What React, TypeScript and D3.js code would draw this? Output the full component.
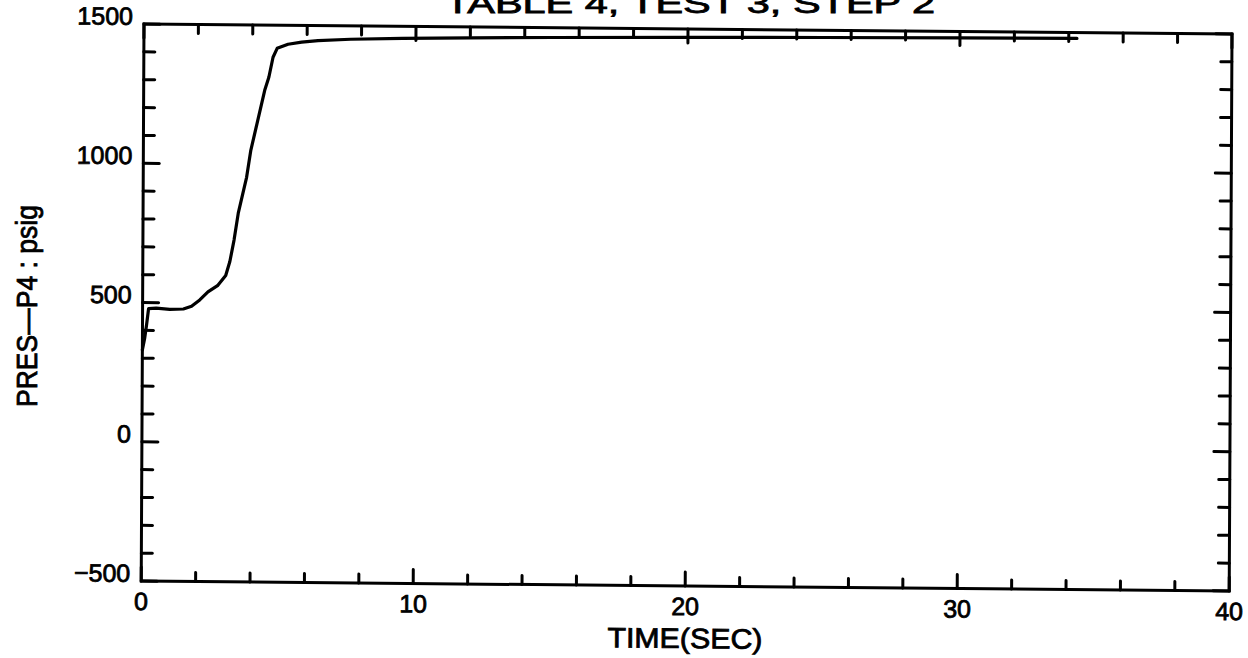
import React from "react";
import * as d3 from "d3";

const titleText = "TABLE 4, TEST 3, STEP 2";
const xLabelText = "TIME(SEC)";
const yLabelText = "PRES\u2014P4 : psig";

const xTickLabels = [0, 10, 20, 30, 40];
const yTickLabels = [-500, 0, 500, 1000, 1500];

const timeSec = [
  0, 0.08, 0.15, 0.22, 0.5, 1.0, 1.5, 1.8, 2.1, 2.4, 2.75, 3.05, 3.2, 3.35, 3.5,
  3.8, 3.95, 4.2, 4.45, 4.6, 4.75, 4.9, 5.3, 5.8, 6.4, 7.6, 9.5, 12, 15, 20, 25,
  30, 34.3,
];
const presPsig = [
  330, 370, 420, 478, 480, 476, 478, 488, 511, 540, 563, 600, 650, 727, 824,
  953, 1050, 1158, 1266, 1313, 1385, 1417, 1432, 1440, 1446, 1452, 1457, 1461,
  1465, 1470, 1474, 1477, 1479,
];

const W = 1088;
const H = 557;
const FONT = "'Liberation Sans', Arial, sans-serif";

export default function App() {
  const x = d3.scaleLinear().domain([0, 40]).range([0, W]);
  const y = d3.scaleLinear().domain([-500, 1500]).range([H, 0]);

  const xMinor = d3.range(0, 40.001, 2);
  const yMinor = d3.range(-500, 1500.001, 100);
  const isMajorX = (v: number) => Math.abs(v % 10) < 1e-6;
  const isMajorY = (v: number) => Math.abs(((v % 500) + 500) % 500) < 1e-6;

  const pts: [number, number][] = timeSec.map((t, i) => [t, presPsig[i]]);
  const line = d3
    .line<[number, number]>()
    .x((d) => x(d[0]))
    .y((d) => y(d[1]));

  const tickStyle = { stroke: "#000", strokeWidth: 3, strokeLinecap: "round" as const };
  const textStroke = { stroke: "#000", strokeWidth: 0.8 };

  return (
    <svg
      width={1248}
      height={658}
      style={{ position: "absolute", left: 0, top: 0, background: "#fff" }}
    >
      <text
        x={690}
        y={13}
        textAnchor="middle"
        fontFamily={FONT}
        fontSize={28}
        textLength={490}
        lengthAdjust="spacingAndGlyphs"
        {...textStroke}
      >
        {titleText}
      </text>
      <g transform="matrix(1 0.0092 -0.005 1 144 24)">
        <rect x={0} y={0} width={W} height={H} fill="none" stroke="#000" strokeWidth={3} />
        {xMinor.map((v) => {
          const len = isMajorX(v) ? 14 : 9;
          return (
            <g key={"xt" + v}>
              <line x1={x(v)} x2={x(v)} y1={H} y2={H - len} {...tickStyle} />
              <line x1={x(v)} x2={x(v)} y1={0} y2={len} {...tickStyle} />
            </g>
          );
        })}
        {yMinor.map((v) => {
          const len = isMajorY(v) ? 16 : 11;
          return (
            <g key={"yt" + v}>
              <line x1={0} x2={len} y1={y(v)} y2={y(v)} {...tickStyle} />
              <line x1={W} x2={W - len} y1={y(v)} y2={y(v)} {...tickStyle} />
            </g>
          );
        })}
        {xTickLabels.map((v) => (
          <text
            key={"xl" + v}
            x={x(v)}
            y={H + 29}
            textAnchor="middle"
            fontFamily={FONT}
            fontSize={25}
            {...textStroke}
          >
            {v}
          </text>
        ))}
        {yTickLabels.map((v) => (
          <text
            key={"yl" + v}
            x={-11}
            y={y(v) + 1}
            textAnchor="end"
            fontFamily={FONT}
            fontSize={25}
            {...textStroke}
          >
            {v === -500 ? "\u2212500" : v}
          </text>
        ))}
        <path
          d={line(pts) || ""}
          fill="none"
          stroke="#000"
          strokeWidth={3.2}
          strokeLinejoin="round"
          strokeLinecap="round"
        />
        <text
          x={x(20)}
          y={H + 62}
          textAnchor="middle"
          fontFamily={FONT}
          fontSize={28}
          textLength={155}
          lengthAdjust="spacingAndGlyphs"
          {...textStroke}
        >
          {xLabelText}
        </text>
      </g>
      <text
        transform="translate(37,306) rotate(-90)"
        textAnchor="middle"
        fontFamily={FONT}
        fontSize={30}
        textLength={202}
        lengthAdjust="spacingAndGlyphs"
        {...textStroke}
      >
        {yLabelText}
      </text>
    </svg>
  );
}
